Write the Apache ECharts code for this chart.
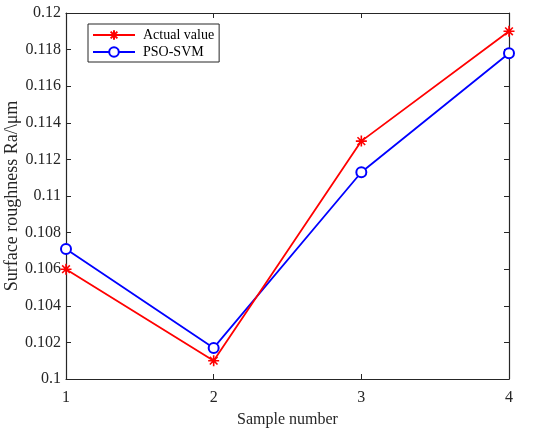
<!DOCTYPE html>
<html>
<head>
	<meta charset="utf-8">
	<title>Surface roughness</title>
	<script type="text/javascript" src="https://cdn.jsdelivr.net/npm/echarts@6/dist/echarts.min.js"></script>
	<style>
		html, body { margin: 0; padding: 0; background: #fff; }
	</style>
</head>
<body>
	<div id="main" style="width: 550px;height: 434px"></div>
	<script type="text/javascript">
	// data
	const samples = [1, 2, 3, 4];
	const actualValue = [0.106, 0.101, 0.113, 0.119];
	const psoSvm = [0.1071, 0.1017, 0.1113, 0.1178];
	const seriesNames = ['Actual value', 'PSO-SVM'];

	const font = "'Liberation Serif', 'Times New Roman', serif";
	const ink = '#262626';
	// MATLAB style '*' marker
	const star = 'path://M0,-10L0,10M-10,0L10,0M-7,-7L7,7M-7,7L7,-7';

	const chart = echarts.init(document.getElementById('main'));

	// box axes: bottom/left with labels, top/right only ticks
	const xBase = {
		type: 'value', min: 1, max: 4, interval: 1,
		axisLine: { lineStyle: { color: ink, width: 1.2 } },
		axisTick: { inside: true, length: 5, lineStyle: { color: ink } },
		splitLine: { show: false }
	};
	const yBase = {
		type: 'value', min: 0.1, max: 0.12, interval: 0.002,
		axisLine: { show: true, lineStyle: { color: ink, width: 1.2 } },
		axisTick: { show: true, inside: true, length: 5, lineStyle: { color: ink } },
		splitLine: { show: false }
	};

	const option = {
		animation: false,
		textStyle: { fontFamily: font },
		grid: { left: 66, right: 41, top: 13, bottom: 55, outerBoundsMode: 'none', containLabel: false },
		legend: {
			data: seriesNames,
			orient: 'vertical',
			left: 88,
			top: 24,
			padding: [4, 5, 3, 4],
			itemWidth: 42,
			itemHeight: 12,
			itemGap: 3,
			borderColor: ink,
			borderWidth: 1,
			textStyle: { fontFamily: font, fontSize: 14, color: '#000', padding: [0, 0, 0, 3] }
		},
		xAxis: [
			Object.assign({}, xBase, {
				position: 'bottom',
				name: 'Sample number',
				nameLocation: 'middle',
				nameGap: 33,
				nameMoveOverlap: false,
				nameTextStyle: { fontFamily: font, fontSize: 16, color: ink },
				axisLabel: { fontFamily: font, fontSize: 16, color: ink, margin: 11 }
			}),
			Object.assign({}, xBase, { position: 'top', axisLabel: { show: false } })
		],
		yAxis: [
			Object.assign({}, yBase, {
				position: 'left',
				name: 'Surface roughness Ra/\\μm',
				nameLocation: 'middle',
				nameGap: 45,
				nameMoveOverlap: false,
				nameTextStyle: { fontFamily: font, fontSize: 18, color: ink },
				axisLabel: { fontFamily: font, fontSize: 16, color: ink, margin: 5 }
			}),
			Object.assign({}, yBase, { position: 'right', axisLabel: { show: false } })
		],
		series: [
			{
				name: seriesNames[0],
				type: 'line',
				data: samples.map((s, i) => [s, actualValue[i]]),
				symbol: star,
				symbolSize: 11,
				lineStyle: { color: '#ff0000', width: 1.8 },
				itemStyle: { color: '#ff0000', borderColor: '#ff0000', borderWidth: 1.6 },
				z: 3
			},
			{
				name: seriesNames[1],
				type: 'line',
				data: samples.map((s, i) => [s, psoSvm[i]]),
				symbol: 'emptyCircle',
				symbolSize: 10,
				lineStyle: { color: '#0000ff', width: 1.8 },
				itemStyle: { color: '#0000ff', borderColor: '#0000ff', borderWidth: 1.6 },
				z: 2
			}
		]
	};

	chart.setOption(option);
	</script>
</body>
</html>
